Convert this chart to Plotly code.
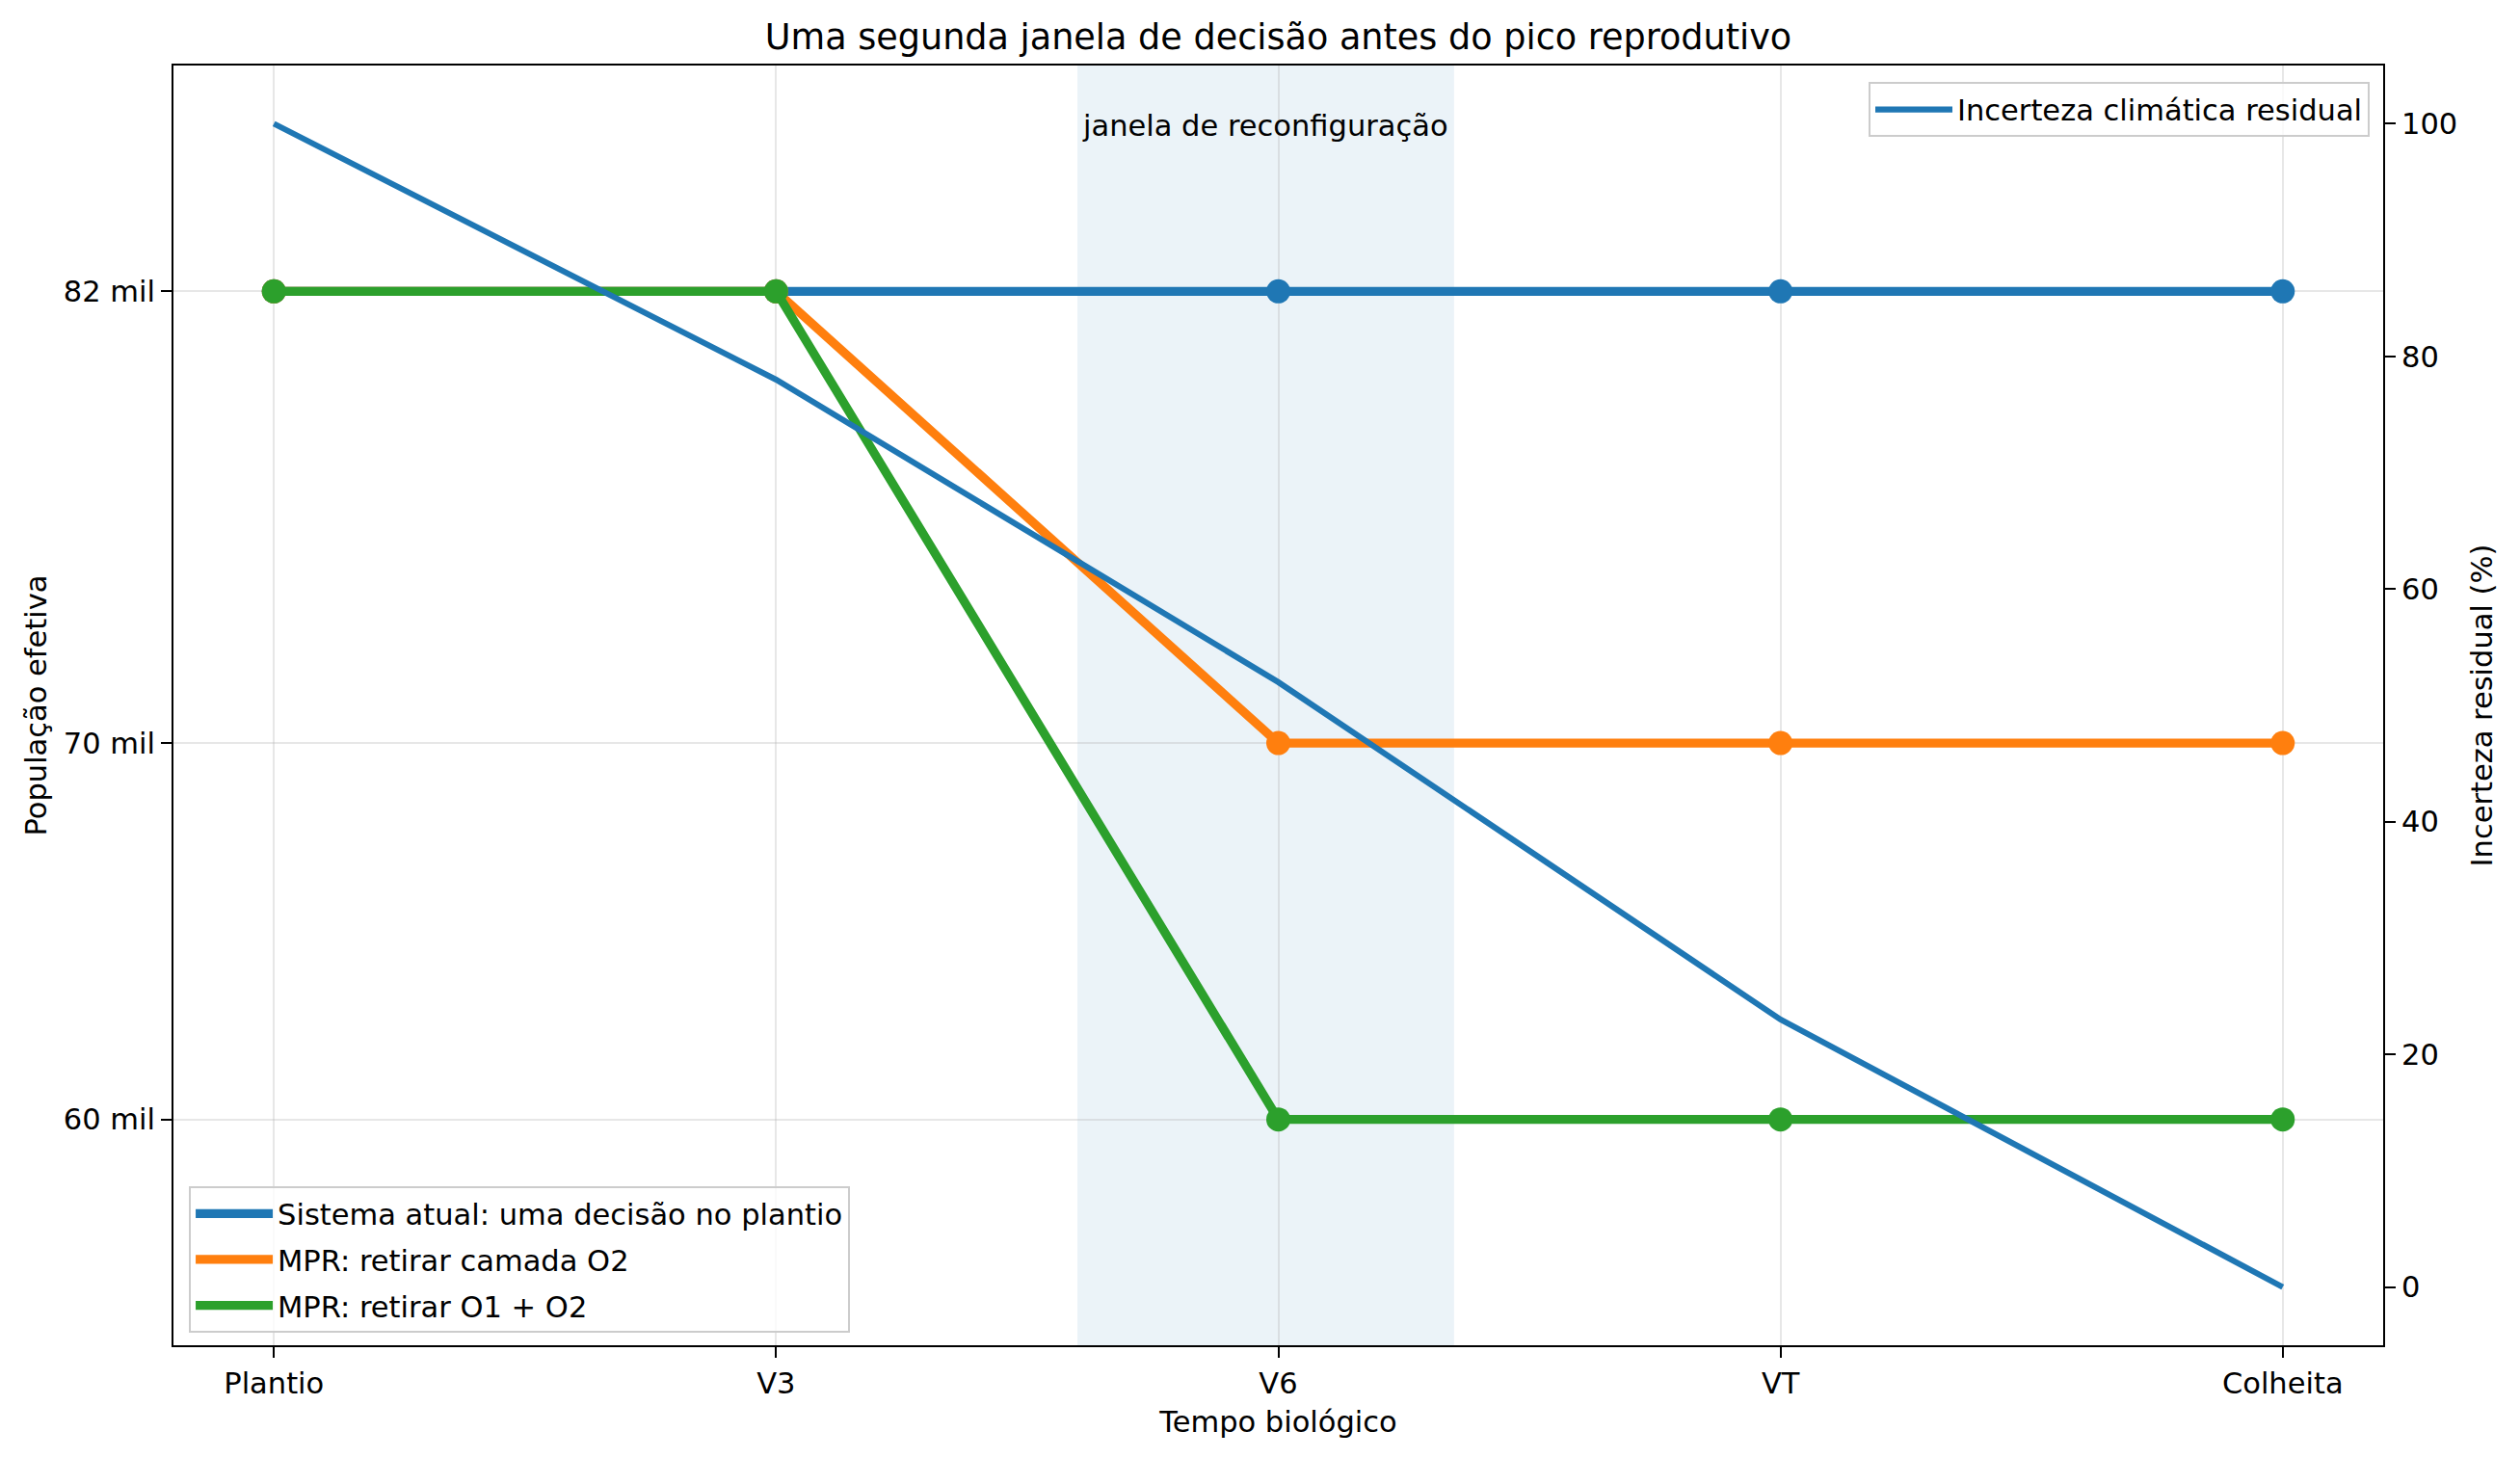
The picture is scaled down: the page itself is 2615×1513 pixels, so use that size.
import plotly.graph_objects as go

# ---- data ----
stages = ["Plantio", "V3", "V6", "VT", "Colheita"]
x_pos = [0, 1, 2, 3, 4]
sistema_atual = [82000, 82000, 82000, 82000, 82000]
mpr_o2 = [82000, 82000, 70000, 70000, 70000]
mpr_o1_o2 = [82000, 82000, 60000, 60000, 60000]
incerteza = [100, 78, 52, 23, 0]
pop_ticks = [60000, 70000, 82000]
pop_tick_labels = ["60 mil", "70 mil", "82 mil"]
unc_ticks = [0, 20, 40, 60, 80, 100]
window_start, window_end = 1.6, 2.35

series = [
    ("Sistema atual: uma decisão no plantio", sistema_atual, "#1f77b4"),
    ("MPR: retirar camada O2", mpr_o2, "#ff7f0e"),
    ("MPR: retirar O1 + O2", mpr_o1_o2, "#2ca02c"),
]

FONT = "DejaVu Sans"
FS = 30.5
TITLE_FS = 36.6
PAGE_OFF = 8  # browser body margin
W, H = 2615 - PAGE_OFF, 1513 - PAGE_OFF

fig = go.Figure()

for i, (name, vals, col) in enumerate(series):
    fig.add_trace(go.Scatter(
        x=x_pos, y=vals, mode="lines", name=name,
        line=dict(color=col, width=9.2),
        legend="legend2", legendgroup=f"g{i}",
        yaxis="y", xaxis="x",
    ))
    fig.add_trace(go.Scatter(
        x=x_pos, y=vals, mode="markers", showlegend=False,
        marker=dict(color=col, size=25, line=dict(width=0)),
        legendgroup=f"g{i}", yaxis="y", xaxis="x",
    ))

fig.add_trace(go.Scatter(
    x=x_pos, y=incerteza, mode="lines", name="Incerteza climática residual",
    line=dict(color="#1f77b4", width=6.1),
    yaxis="y2", xaxis="x", legend="legend",
))

fig.add_shape(
    type="rect", xref="x", yref="paper",
    x0=window_start, x1=window_end, y0=0, y1=1,
    fillcolor="rgba(31,119,180,0.09)", line=dict(width=0), layer="below",
)

fig.add_annotation(
    x=(window_start + window_end) / 2, xref="x", y=0.9526, yref="paper",
    text="janela de reconfiguração", showarrow=False,
    font=dict(family=FONT, size=FS, color="black"),
    xanchor="center", yanchor="middle",
)

grid_col = "rgba(176,176,176,0.3)"
axis_common = dict(
    zeroline=False, showline=True, linecolor="black", linewidth=2.4,
    ticks="outside", ticklen=10.7, tickwidth=2.4, tickcolor="black",
    tickfont=dict(family=FONT, size=FS, color="black"),
)

fig.update_layout(
    width=W, height=H,
    margin=dict(l=180 - PAGE_OFF, r=W - (2473 - PAGE_OFF),
                t=68 - PAGE_OFF, b=H - (1396 - PAGE_OFF)),
    paper_bgcolor="white", plot_bgcolor="white",
    font=dict(family=FONT, size=FS, color="black"),
    title=dict(
        text="Uma segunda janela de decisão antes do pico reprodutivo",
        x=0.5, xref="paper", xanchor="center",
        y=1 - (38 - PAGE_OFF) / H, yref="container", yanchor="middle",
        font=dict(family=FONT, size=TITLE_FS, color="black"),
    ),
    xaxis=dict(
        range=[-0.2, 4.2], tickmode="array", tickvals=x_pos, ticktext=stages,
        showgrid=True, gridcolor=grid_col, gridwidth=2.4, mirror=True,
        title=dict(text="Tempo biológico", standoff=13,
                   font=dict(family=FONT, size=FS)),
        **axis_common,
    ),
    yaxis=dict(
        range=[54000, 88000], tickmode="array", tickvals=pop_ticks,
        ticktext=pop_tick_labels,
        showgrid=True, gridcolor=grid_col, gridwidth=2.4, mirror=True,
        title=dict(text="População efetiva", standoff=8,
                   font=dict(family=FONT, size=FS)),
        **axis_common,
    ),
    yaxis2=dict(
        range=[-5, 105], overlaying="y", side="right",
        tickmode="array", tickvals=unc_ticks, showgrid=False,
        title=dict(text="Incerteza residual (%)", standoff=15,
                   font=dict(family=FONT, size=FS)),
        **axis_common,
    ),
    legend=dict(
        x=0.9939, y=0.987, xanchor="right", yanchor="top",
        xref="paper", yref="paper",
        bgcolor="rgba(255,255,255,0.8)", bordercolor="rgb(204,204,204)",
        borderwidth=2, font=dict(family=FONT, size=FS),
        itemwidth=80,
    ),
    legend2=dict(
        x=0.007, y=0.0098, xanchor="left", yanchor="bottom",
        xref="paper", yref="paper",
        bgcolor="rgba(255,255,255,0.8)", bordercolor="rgb(204,204,204)",
        borderwidth=2, font=dict(family=FONT, size=FS),
        tracegroupgap=5, traceorder="grouped", itemwidth=80,
    ),
)

fig.write_html("out.html")
